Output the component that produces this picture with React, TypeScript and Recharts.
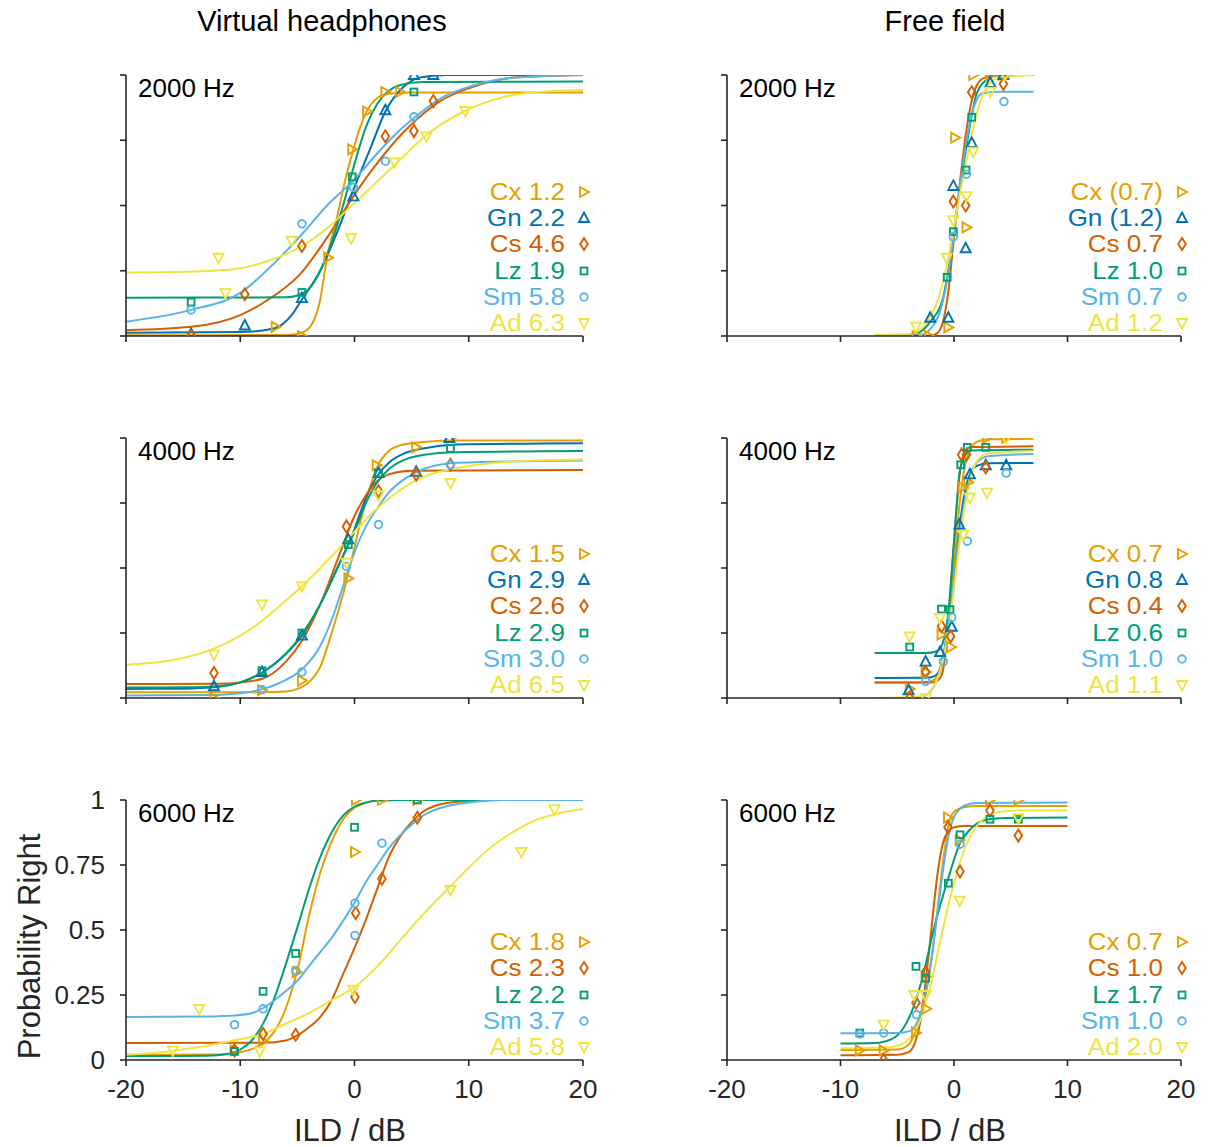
import React from 'react';
import { ComposedChart, Line, Scatter, XAxis, YAxis } from 'recharts';

type Pair = [number, number];
type Series = Record<string, Pair[]>;

const FONT = '"Liberation Sans", Arial, Helvetica, sans-serif';
const AXIS = '#262626';

const subjectColors: Record<string, string> = {
  Cx: '#E69F00',
  Gn: '#0072B2',
  Cs: '#D55E00',
  Lz: '#009E73',
  Sm: '#56B4E9',
  Ad: '#F0E442',
};

const xTicks = [-20, -10, 0, 10, 20];
const yTicks = [0, 0.25, 0.5, 0.75, 1];

// ---- Virtual headphones, 2000 Hz
const vh2000Legend = [['Cx', '1.2'], ['Gn', '2.2'], ['Cs', '4.6'], ['Lz', '1.9'], ['Sm', '5.8'], ['Ad', '6.3']];
const vh2000Points: Series = {
  Cx: [[-6.9, 0.035], [-4.6, 0.0], [-2.3, 0.3], [-0.2, 0.715], [1.1, 0.86], [2.7, 0.935], [4.0, 0.935]],
  Gn: [[-14.3, 0.008], [-9.6, 0.04], [-4.6, 0.145], [-0.1, 0.535], [2.7, 0.865], [5.2, 1.0], [6.9, 1.0]],
  Cs: [[-14.3, 0.0], [-9.6, 0.16], [-4.6, 0.345], [2.7, 0.765], [5.2, 0.785], [6.9, 0.9]],
  Lz: [[-14.3, 0.13], [-4.6, 0.167], [-0.2, 0.61], [5.2, 0.935]],
  Sm: [[-14.3, 0.1], [-4.6, 0.43], [-0.1, 0.57], [2.7, 0.67], [5.2, 0.84]],
  Ad: [[-11.9, 0.3], [-11.3, 0.165], [-5.5, 0.365], [-0.3, 0.375], [3.5, 0.665], [6.3, 0.765], [9.7, 0.862]],
};
const vh2000Curves: Series = {
  Cx: [[-20, 0.003], [-6, 0.004], [-5, 0.008], [-4, 0.03], [-3, 0.14], [-2.4, 0.3], [-1.5, 0.46], [-0.8, 0.6], [0, 0.73], [0.5, 0.8], [1, 0.855], [2, 0.912], [3, 0.928], [5, 0.933], [20, 0.933]],
  Gn: [[-20, 0.012], [-10, 0.015], [-7, 0.03], [-5.5, 0.08], [-4.6, 0.14], [-3, 0.25], [-1.5, 0.4], [0, 0.57], [1.4, 0.72], [2.7, 0.86], [4.3, 0.955], [5.7, 0.99], [8, 1.0], [20, 1.0]],
  Cs: [[-20, 0.022], [-14.3, 0.035], [-10, 0.08], [-7.7, 0.135], [-4.8, 0.235], [-2.2, 0.39], [-0.4, 0.515], [1.6, 0.64], [4.5, 0.79], [7.5, 0.9], [10.4, 0.955], [14, 0.99], [20, 1.0]],
  Lz: [[-20, 0.147], [-6, 0.148], [-5, 0.155], [-4, 0.18], [-3, 0.25], [-2, 0.36], [-1, 0.5], [0, 0.66], [1, 0.8], [2, 0.89], [3, 0.94], [4, 0.962], [6, 0.973], [20, 0.975]],
  Sm: [[-20, 0.055], [-14.3, 0.1], [-10, 0.165], [-7, 0.28], [-4.6, 0.39], [-2.4, 0.5], [0, 0.6], [2, 0.7], [4, 0.79], [5.2, 0.835], [7.5, 0.91], [10.4, 0.96], [14, 0.99], [20, 1.0]],
  Ad: [[-20, 0.243], [-14, 0.247], [-10, 0.26], [-7.4, 0.29], [-4.6, 0.344], [-2.2, 0.42], [0, 0.51], [1.7, 0.58], [3.4, 0.65], [6.3, 0.77], [9.8, 0.865], [13, 0.915], [16, 0.935], [20, 0.943]],
};

// ---- Free field, 2000 Hz
const ff2000Legend = [['Cx', '(0.7)'], ['Gn', '(1.2)'], ['Cs', '0.7'], ['Lz', '1.0'], ['Sm', '0.7'], ['Ad', '1.2']];
const ff2000Points: Series = {
  Cx: [[-3.3, 0.0], [-2.2, 0.0], [-0.5, 0.033], [1.1, 0.416], [0.1, 0.76], [1.7, 1.0], [3.2, 1.0], [4.3, 1.0]],
  Gn: [[-2.1, 0.07], [-0.5, 0.07], [-0.06, 0.575], [1.03, 0.336], [1.56, 0.74], [3.2, 0.97], [4.35, 1.0]],
  Cs: [[-0.06, 0.515], [1.03, 0.5], [1.56, 0.934], [4.35, 0.966]],
  Lz: [[-0.6, 0.225], [-0.06, 0.4], [1.06, 0.636], [1.56, 0.838]],
  Sm: [[-0.06, 0.38], [1.1, 0.62], [4.4, 0.898]],
  Ad: [[-3.35, 0.036], [-0.65, 0.3], [-0.06, 0.444], [1.1, 0.536], [1.7, 0.706], [3.2, 0.936], [4.5, 1.0]],
};
const ff2000Curves: Series = {
  Cs: [[-7, 0.0], [-2, 0.002], [-1.5, 0.01], [-1, 0.05], [-0.5, 0.17], [0, 0.38], [0.5, 0.58], [1, 0.76], [1.5, 0.89], [2, 0.96], [2.7, 0.99], [4, 1.0], [7, 1.0]],
  Lz: [[-7, 0.0], [-4, 0.003], [-3, 0.015], [-2, 0.06], [-1, 0.14], [-0.5, 0.25], [0, 0.4], [0.5, 0.56], [1, 0.7], [1.5, 0.83], [2, 0.93], [3, 0.985], [4, 1.0], [7, 1.0]],
  Sm: [[-7, 0.0], [-3, 0.005], [-2, 0.03], [-1, 0.13], [-0.5, 0.24], [0, 0.4], [0.5, 0.57], [1, 0.72], [1.5, 0.84], [2, 0.905], [2.5, 0.93], [4, 0.936], [7, 0.936]],
  Ad: [[-7, 0.005], [-4, 0.008], [-3, 0.025], [-2, 0.08], [-1, 0.2], [-0.5, 0.3], [0, 0.42], [0.5, 0.54], [1, 0.65], [1.5, 0.76], [2, 0.85], [2.5, 0.92], [3, 0.96], [4, 0.99], [7, 1.0]],
};

// ---- Virtual headphones, 4000 Hz
const vh4000Legend = [['Cx', '1.5'], ['Gn', '2.9'], ['Cs', '2.6'], ['Lz', '2.9'], ['Sm', '3.0'], ['Ad', '6.5']];
const vh4000Points: Series = {
  Cx: [[-12.3, 0.0], [-8.1, 0.03], [-4.6, 0.067], [-0.54, 0.46], [1.94, 0.895], [5.4, 0.964], [8.4, 1.0]],
  Gn: [[-12.3, 0.045], [-8.1, 0.1], [-4.6, 0.24], [-0.54, 0.61], [2.1, 0.865], [5.4, 0.87], [8.3, 1.0]],
  Cs: [[-12.3, 0.096], [-0.7, 0.66], [2.1, 0.795], [5.4, 0.86], [8.4, 0.897]],
  Lz: [[-8.1, 0.105], [-4.6, 0.25], [-0.54, 0.59], [2.1, 0.865], [8.4, 0.96]],
  Sm: [[-8.1, 0.032], [-4.6, 0.1], [-0.7, 0.506], [2.1, 0.667], [8.4, 0.897]],
  Ad: [[-12.3, 0.167], [-8.1, 0.36], [-4.6, 0.43], [-0.7, 0.52], [2.1, 0.78], [8.4, 0.827]],
};
const vh4000Curves: Series = {
  Cx: [[-20, 0.022], [-8, 0.022], [-6, 0.025], [-5, 0.035], [-4, 0.06], [-3, 0.12], [-2, 0.25], [-1, 0.4], [0, 0.58], [1, 0.76], [2, 0.89], [3, 0.95], [4, 0.972], [6, 0.985], [9, 0.99], [20, 0.99]],
  Gn: [[-20, 0.035], [-15, 0.036], [-12, 0.042], [-10, 0.06], [-8, 0.1], [-6, 0.17], [-4.6, 0.24], [-3, 0.36], [-1.5, 0.5], [0, 0.65], [1, 0.77], [2, 0.855], [3, 0.905], [4.3, 0.94], [6, 0.96], [9, 0.975], [20, 0.98]],
  Cs: [[-20, 0.054], [-12, 0.055], [-10, 0.06], [-8, 0.075], [-6, 0.14], [-4.6, 0.22], [-3, 0.36], [-1.5, 0.53], [0, 0.7], [1, 0.78], [2, 0.835], [3, 0.86], [5, 0.874], [20, 0.877]],
  Lz: [[-20, 0.04], [-15, 0.041], [-12, 0.045], [-10, 0.06], [-8, 0.1], [-6, 0.17], [-4.6, 0.245], [-3, 0.36], [-1.5, 0.5], [0, 0.64], [1, 0.75], [2, 0.83], [3, 0.88], [4.3, 0.915], [6, 0.935], [9, 0.945], [20, 0.95]],
  Sm: [[-20, 0.01], [-12, 0.012], [-10, 0.018], [-8, 0.035], [-6, 0.07], [-4.6, 0.11], [-3, 0.2], [-2, 0.3], [-1, 0.43], [0, 0.56], [1, 0.66], [2, 0.73], [3, 0.79], [4.3, 0.84], [6, 0.88], [9, 0.905], [20, 0.913]],
  Ad: [[-20, 0.128], [-16, 0.145], [-12.3, 0.19], [-10, 0.24], [-8, 0.3], [-6, 0.375], [-4.6, 0.43], [-2, 0.545], [0, 0.64], [2, 0.73], [4, 0.8], [6, 0.85], [9, 0.885], [14, 0.91], [20, 0.917]],
};

// ---- Free field, 4000 Hz
const ff4000Legend = [['Cx', '0.7'], ['Gn', '0.8'], ['Cs', '0.4'], ['Lz', '0.6'], ['Sm', '1.0'], ['Ad', '1.1']];
const ff4000Points: Series = {
  Cx: [[-3.9, 0.035], [-2.5, 0.1], [-1.1, 0.244], [-0.26, 0.196], [0.76, 0.81], [1.26, 0.83], [2.9, 1.0], [4.6, 1.0]],
  Gn: [[-4.0, 0.03], [-2.5, 0.14], [-1.23, 0.177], [-0.2, 0.274], [0.47, 0.667], [1.4, 0.86], [2.8, 0.895], [4.6, 0.895]],
  Cs: [[-3.9, 0.0], [-2.5, 0.1], [-1.1, 0.276], [-0.3, 0.237], [0.67, 0.936], [1.1, 0.936], [2.8, 0.887]],
  Lz: [[-3.9, 0.196], [-1.1, 0.342], [-0.35, 0.34], [0.59, 0.897], [1.17, 0.964], [2.8, 0.964]],
  Sm: [[-2.5, 0.064], [-0.94, 0.14], [-0.2, 0.31], [1.17, 0.603], [4.6, 0.865]],
  Ad: [[-3.9, 0.237], [-2.5, 0.0], [-1.23, 0.308], [0.82, 0.628], [1.4, 0.77], [2.9, 0.79], [4.6, 1.0]],
};
const ff4000Curves: Series = {
  Cx: [[-7, 0.06], [-3, 0.06], [-2, 0.065], [-1.5, 0.08], [-1, 0.13], [-0.5, 0.27], [0, 0.5], [0.5, 0.75], [1, 0.9], [1.5, 0.96], [2, 0.985], [3, 0.995], [7, 0.997]],
  Gn: [[-7, 0.077], [-2.5, 0.078], [-2, 0.08], [-1.5, 0.09], [-1, 0.15], [-0.5, 0.28], [0, 0.44], [0.5, 0.66], [1, 0.8], [1.5, 0.87], [2, 0.893], [3, 0.903], [7, 0.904]],
  Cs: [[-7, 0.06], [-2, 0.06], [-1.5, 0.065], [-1, 0.1], [-0.5, 0.3], [0, 0.6], [0.5, 0.86], [1, 0.95], [1.5, 0.965], [7, 0.968]],
  Lz: [[-7, 0.173], [-2.5, 0.173], [-1.5, 0.18], [-1, 0.21], [-0.5, 0.33], [0, 0.6], [0.5, 0.87], [1, 0.935], [1.5, 0.952], [7, 0.955]],
  Sm: [[-7, 0.0], [-3.5, 0.0], [-2.5, 0.01], [-2, 0.03], [-1.5, 0.07], [-1, 0.15], [-0.5, 0.28], [0, 0.45], [0.5, 0.63], [1, 0.77], [1.5, 0.86], [2, 0.905], [3, 0.93], [7, 0.938]],
  Ad: [[-7, 0.0], [-3, 0.005], [-2, 0.03], [-1.5, 0.07], [-1, 0.14], [-0.5, 0.25], [0, 0.42], [0.5, 0.6], [1, 0.75], [1.5, 0.85], [2, 0.91], [3, 0.94], [7, 0.95]],
};

// ---- Virtual headphones, 6000 Hz
const vh6000Legend = [['Cx', '1.8'], ['Cs', '2.3'], ['Lz', '2.2'], ['Sm', '3.7'], ['Ad', '5.8']];
const vh6000Points: Series = {
  Cx: [[-10.5, 0.037], [-8.0, 0.072], [-5.06, 0.338], [0.04, 0.8], [0.13, 1.0], [2.4, 1.0], [5.5, 1.0]],
  Cs: [[-10.5, 0.037], [-8.0, 0.1], [-5.15, 0.097], [0.04, 0.242], [0.1, 0.565], [2.4, 0.697], [5.5, 0.932]],
  Lz: [[-10.5, 0.033], [-8.0, 0.264], [-5.15, 0.41], [0, 0.895], [5.5, 1.0]],
  Sm: [[-10.5, 0.136], [-8.0, 0.197], [-5.15, 0.344], [0.04, 0.479], [0.04, 0.603], [2.4, 0.834]],
  Ad: [[-15.9, 0.037], [-13.6, 0.196], [-8.3, 0.033], [-0.1, 0.27], [8.4, 0.654], [14.6, 0.8], [17.5, 0.965]],
};
const vh6000Curves: Series = {
  Cx: [[-20, 0.02], [-12, 0.021], [-10.5, 0.027], [-9.5, 0.035], [-8, 0.065], [-7, 0.11], [-6, 0.2], [-5, 0.345], [-4, 0.55], [-3, 0.72], [-2, 0.84], [-1, 0.925], [0, 0.97], [1, 0.99], [2, 0.998], [4, 1.0], [20, 1.0]],
  Cs: [[-20, 0.065], [-8, 0.066], [-6, 0.075], [-5, 0.095], [-4, 0.125], [-3, 0.165], [-2, 0.23], [-1, 0.33], [0, 0.43], [1, 0.54], [2, 0.66], [3, 0.78], [4, 0.86], [5, 0.915], [6, 0.955], [7, 0.977], [9, 0.993], [12, 1.0], [20, 1.0]],
  Lz: [[-20, 0.015], [-13, 0.016], [-11, 0.024], [-10, 0.04], [-9, 0.075], [-8, 0.14], [-7, 0.24], [-6, 0.37], [-5, 0.51], [-4, 0.655], [-3, 0.78], [-2, 0.875], [-1, 0.94], [0, 0.975], [1, 0.99], [2, 0.998], [4, 1.0], [20, 1.0]],
  Sm: [[-20, 0.165], [-13, 0.167], [-11, 0.17], [-9, 0.18], [-8, 0.2], [-7, 0.23], [-6, 0.265], [-5, 0.305], [-4, 0.36], [-3, 0.415], [-2, 0.47], [-1, 0.535], [0, 0.605], [1, 0.685], [2, 0.75], [3, 0.815], [4, 0.865], [5, 0.905], [6, 0.94], [8, 0.975], [10, 0.99], [13, 1.0], [20, 1.0]],
  Ad: [[-20, 0.02], [-16, 0.035], [-13, 0.055], [-10, 0.08], [-8, 0.1], [-6, 0.14], [-4, 0.18], [-2, 0.23], [0, 0.28], [2, 0.36], [4, 0.46], [6, 0.56], [8, 0.65], [10, 0.74], [12, 0.82], [14, 0.88], [16, 0.925], [18, 0.95], [20, 0.965]],
};

// ---- Free field, 6000 Hz
const ff6000Legend = [['Cx', '0.7'], ['Cs', '1.0'], ['Lz', '1.7'], ['Sm', '1.0'], ['Ad', '2.0']];
const ff6000Points: Series = {
  Cx: [[-8.3, 0.037], [-6.2, 0.037], [-3.35, 0.105], [-2.45, 0.197], [-2.5, 0.32], [-0.53, 0.932], [0.5, 0.846], [3.17, 1.0], [5.67, 1.0]],
  Cs: [[-6.2, 0.0], [-3.35, 0.22], [-2.5, 0.338], [-0.53, 0.895], [0.53, 0.725], [3.17, 0.96], [5.67, 0.863]],
  Lz: [[-8.3, 0.104], [-3.35, 0.36], [-2.5, 0.315], [-0.5, 0.68], [0.53, 0.866], [3.17, 0.926], [5.67, 0.926]],
  Sm: [[-8.3, 0.1], [-6.2, 0.104], [-3.3, 0.174], [0.53, 0.83]],
  Ad: [[-6.2, 0.136], [-3.5, 0.25], [-2.5, 0.25], [0.5, 0.613], [5.67, 0.93]],
};
const ff6000Curves: Series = {
  Cx: [[-10, 0.038], [-5, 0.04], [-4, 0.06], [-3.3, 0.12], [-2.5, 0.25], [-2, 0.38], [-1.5, 0.56], [-1, 0.75], [-0.5, 0.9], [0, 0.955], [1, 0.973], [2, 0.977], [10, 0.977]],
  Cs: [[-10, 0.018], [-5, 0.02], [-4, 0.03], [-3.5, 0.06], [-3, 0.14], [-2.5, 0.3], [-2, 0.5], [-1.5, 0.7], [-1, 0.83], [-0.5, 0.88], [0, 0.895], [1, 0.9], [10, 0.9]],
  Lz: [[-10, 0.063], [-7, 0.065], [-5.5, 0.08], [-4.5, 0.12], [-3.6, 0.2], [-2.7, 0.33], [-1.8, 0.5], [-0.5, 0.7], [0.5, 0.83], [1.5, 0.89], [2.5, 0.92], [4, 0.93], [10, 0.933]],
  Sm: [[-10, 0.103], [-5, 0.104], [-4, 0.11], [-3.3, 0.14], [-2.8, 0.2], [-2.3, 0.3], [-1.8, 0.45], [-1.3, 0.62], [-0.8, 0.78], [-0.4, 0.88], [0, 0.935], [0.5, 0.965], [1, 0.98], [2, 0.988], [10, 0.99]],
  Ad: [[-10, 0.045], [-6, 0.048], [-5, 0.055], [-4, 0.08], [-3, 0.15], [-2, 0.3], [-1, 0.5], [0, 0.68], [1, 0.82], [2, 0.9], [3, 0.94], [4, 0.955], [6, 0.96], [10, 0.96]],
};

const toXY = (pts: Pair[]) => pts.map(([x, y]) => ({ x, y }));

// open markers, one shape per listener
const Marker = ({ kind, cx, cy }: { kind: string; cx: number; cy: number }) => {
  const p = { fill: 'none', stroke: subjectColors[kind], strokeWidth: 1.9, strokeLinejoin: 'miter' as const };
  if (cx == null || cy == null) return <g />;
  switch (kind) {
    case 'Cx':
      return <polygon points={`${cx - 4},${cy - 5} ${cx + 5},${cy} ${cx - 4},${cy + 5}`} {...p} />;
    case 'Gn':
      return <polygon points={`${cx},${cy - 5.5} ${cx + 5},${cy + 4} ${cx - 5},${cy + 4}`} {...p} />;
    case 'Cs':
      return <polygon points={`${cx},${cy - 6} ${cx + 3.8},${cy} ${cx},${cy + 6} ${cx - 3.8},${cy}`} {...p} />;
    case 'Lz':
      return <rect x={cx - 3.4} y={cy - 3.4} width={6.8} height={6.8} {...p} />;
    case 'Sm':
      return <circle cx={cx} cy={cy} r={3.8} {...p} />;
    default:
      return <polygon points={`${cx - 5},${cy - 4} ${cx + 5},${cy - 4} ${cx},${cy + 5.5}`} {...p} />;
  }
};

const noTick = () => <g />;

type PanelProps = {
  x: number;
  y: number;
  w: number;
  h: number;
  freq: string;
  legend: string[][];
  points: Series;
  curves: Series;
  xLabels?: boolean;
  yLabels?: boolean;
};

const ML = 100;
const MT = 14;
const MR = 30;
const XH = 60;

const Panel = ({ x, y, w, h, freq, legend, points, curves, xLabels, yLabels }: PanelProps) => {
  const tickStyle = { fill: AXIS, fontSize: 26, fontFamily: FONT };
  const rowGap = 26.2;
  const lastRow = y + h - 13;
  const firstRow = lastRow - rowGap * (legend.length - 1);
  const textRight = x + w - 18;
  const markerX = x + w + 1;
  return (
    <>
      <div style={{ position: 'absolute', left: x - ML, top: y - MT }}>
        <ComposedChart width={ML + w + MR} height={MT + h + XH} margin={{ top: MT, right: MR, bottom: 0, left: 0 }}>
          <XAxis
            type="number"
            dataKey="x"
            domain={[-20, 20]}
            ticks={xTicks}
            interval={0}
            height={XH}
            allowDataOverflow
            axisLine={{ stroke: AXIS, strokeWidth: 1.6 }}
            tickLine={{ stroke: AXIS, strokeWidth: 1.6 }}
            tickSize={6}
            tickMargin={14}
            tick={xLabels ? tickStyle : noTick}
          />
          <YAxis
            type="number"
            dataKey="y"
            domain={[0, 1]}
            ticks={yTicks}
            interval={0}
            width={ML}
            allowDataOverflow
            axisLine={{ stroke: AXIS, strokeWidth: 1.6 }}
            tickLine={{ stroke: AXIS, strokeWidth: 1.6 }}
            tickSize={6}
            tickMargin={15}
            tick={yLabels ? tickStyle : noTick}
          />
          {Object.keys(curves).map((s) => (
            <Line
              key={`line-${s}`}
              data={toXY(curves[s])}
              dataKey="y"
              type="monotone"
              stroke={subjectColors[s]}
              strokeWidth={2}
              dot={false}
              activeDot={false}
              isAnimationActive={false}
            />
          ))}
          {Object.keys(points).map((s) => (
            <Scatter
              key={`pts-${s}`}
              data={toXY(points[s])}
              dataKey="y"
              isAnimationActive={false}
              shape={(props: any) => <Marker kind={s} cx={props.cx} cy={props.cy} />}
            />
          ))}
        </ComposedChart>
      </div>
      <div style={{ position: 'absolute', left: x + 12, top: y + 2, fontSize: 26, lineHeight: '22px', color: '#000', fontFamily: FONT }}>
        {freq}
      </div>
      {legend.map(([s, v], i) => {
        const cy = firstRow + i * rowGap;
        return (
          <React.Fragment key={`leg-${s}`}>
            <div
              style={{
                position: 'absolute',
                left: textRight - 220,
                width: 220,
                top: cy - 11,
                height: 22,
                textAlign: 'right',
                fontSize: 26,
                lineHeight: '22px',
                color: subjectColors[s],
                fontFamily: FONT,
                whiteSpace: 'nowrap',
                transform: 'scaleY(0.89)',
                transformOrigin: '50% 50%',
              }}
            >
              {`${s} ${v}`}
            </div>
            <svg style={{ position: 'absolute', left: markerX - 8, top: cy - 8 }} width={16} height={16}>
              <Marker kind={s} cx={8} cy={8} />
            </svg>
          </React.Fragment>
        );
      })}
    </>
  );
};

export default function App() {
  const LX = 126;
  const RX = 727;
  const LW = 457;
  const RW = 454;
  return (
    <div style={{ position: 'absolute', left: 0, top: 0, width: 1209, height: 1147, background: '#fff', fontFamily: FONT, overflow: 'hidden' }}>
      <div style={{ position: 'absolute', left: 322 - 200, width: 400, top: 6, textAlign: 'center', fontSize: 29, lineHeight: '30px', color: '#000' }}>
        Virtual headphones
      </div>
      <div style={{ position: 'absolute', left: 945 - 200, width: 400, top: 6, textAlign: 'center', fontSize: 29, lineHeight: '30px', color: '#000' }}>
        Free field
      </div>

      <Panel x={LX} y={75} w={LW} h={261} freq="2000 Hz" legend={vh2000Legend} points={vh2000Points} curves={vh2000Curves} />
      <Panel x={RX} y={75} w={RW} h={261} freq="2000 Hz" legend={ff2000Legend} points={ff2000Points} curves={ff2000Curves} />
      <Panel x={LX} y={438} w={LW} h={260} freq="4000 Hz" legend={vh4000Legend} points={vh4000Points} curves={vh4000Curves} />
      <Panel x={RX} y={438} w={RW} h={260} freq="4000 Hz" legend={ff4000Legend} points={ff4000Points} curves={ff4000Curves} />
      <Panel x={LX} y={800} w={LW} h={260} freq="6000 Hz" legend={vh6000Legend} points={vh6000Points} curves={vh6000Curves} xLabels yLabels />
      <Panel x={RX} y={800} w={RW} h={260} freq="6000 Hz" legend={ff6000Legend} points={ff6000Points} curves={ff6000Curves} xLabels />

      <div style={{ position: 'absolute', left: 350 - 150, width: 300, top: 1115, textAlign: 'center', fontSize: 31, lineHeight: '31px', color: AXIS }}>
        ILD / dB
      </div>
      <div style={{ position: 'absolute', left: 950 - 150, width: 300, top: 1115, textAlign: 'center', fontSize: 31, lineHeight: '31px', color: AXIS }}>
        ILD / dB
      </div>
      <div
        style={{
          position: 'absolute',
          left: 29 - 160,
          top: 946 - 15.5,
          width: 320,
          height: 31,
          textAlign: 'center',
          fontSize: 31,
          lineHeight: '31px',
          color: AXIS,
          transform: 'rotate(-90deg)',
          whiteSpace: 'nowrap',
        }}
      >
        Probability Right
      </div>
    </div>
  );
}
